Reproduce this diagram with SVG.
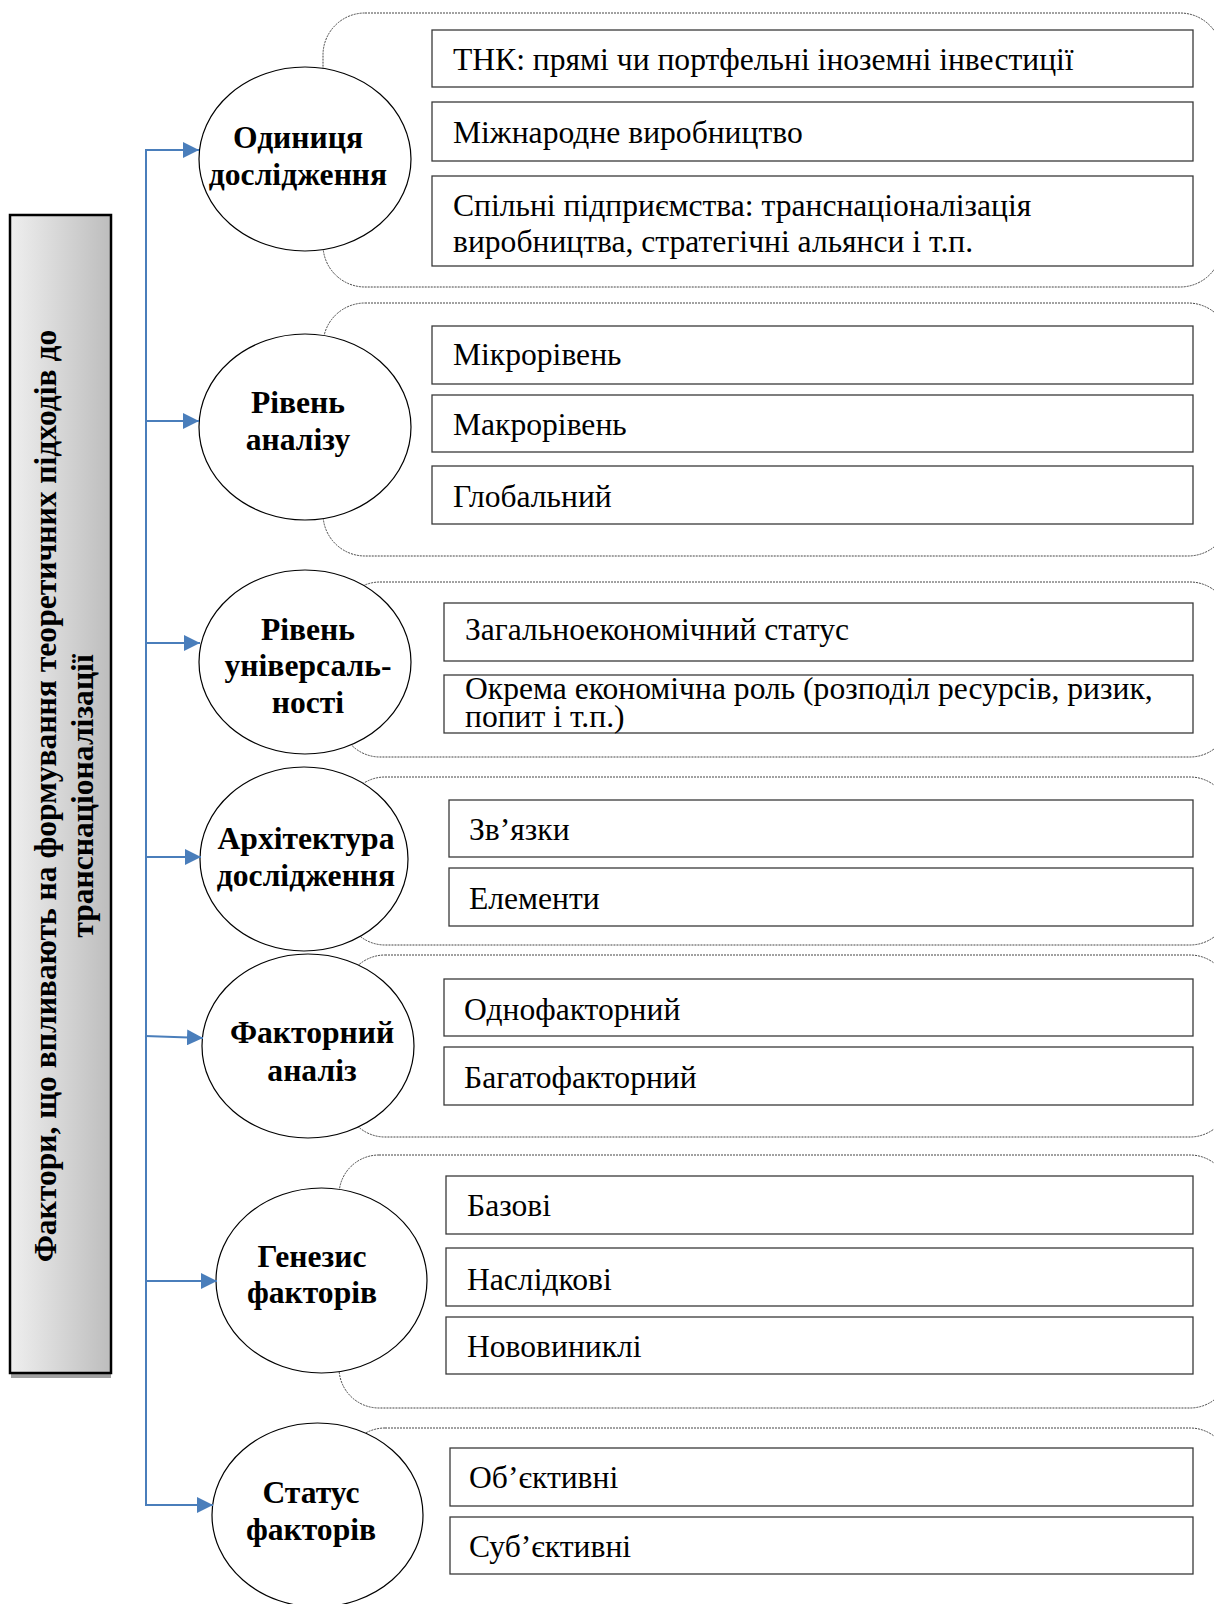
<svg xmlns="http://www.w3.org/2000/svg" width="1214" height="1604" viewBox="0 0 1214 1604">
<defs>
<linearGradient id="barGrad" x1="0" y1="0" x2="1" y2="0">
<stop offset="0" stop-color="#efefef"/>
<stop offset="1" stop-color="#bdbdbd"/>
</linearGradient>
<marker id="arr" markerUnits="userSpaceOnUse" markerWidth="18" markerHeight="16" refX="16" refY="8" orient="auto">
<path d="M0,0 L16,8 L0,16 Z" fill="#4A7EBB"/>
</marker>
</defs>
<style>
.cont{fill:none;stroke:#444;stroke-width:1;stroke-dasharray:2 1}
.box{fill:#fff;stroke:#3a3a3a;stroke-width:1.3}
.circ{fill:#fff;stroke:#000;stroke-width:1.2}
.t{font-family:"Liberation Serif","Times New Roman",serif;font-size:31.6px;fill:#000}
.b{font-family:"Liberation Serif","Times New Roman",serif;font-size:31.6px;font-weight:bold;fill:#000;text-anchor:middle}
.con{fill:none;stroke:#4A7EBB;stroke-width:2}
</style>

<g id="main-factor">
<rect x="11" y="1373" width="100" height="5" fill="#a0a0a0"/>
<rect x="10" y="215" width="101" height="1158" fill="url(#barGrad)" stroke="#000" stroke-width="2.5"/>
<text class="b" transform="translate(56,796) rotate(-90)">Фактори, що впливають на формування теоретичних підходів до</text>
<text class="b" transform="translate(93,796) rotate(-90)">транснаціоналізації</text>
</g>

<g id="group1">
<rect class="cont" x="323" y="13" width="899" height="274" rx="42"/>
<rect class="box" x="432" y="30" width="761" height="57"/>
<text class="t" x="453" y="70">ТНК: прямі чи портфельні іноземні інвестиції</text>
<rect class="box" x="432" y="102" width="761" height="59"/>
<text class="t" x="453" y="143">Міжнародне виробництво</text>
<rect class="box" x="432" y="176" width="761" height="90"/>
<text class="t" x="453" y="216">Спільні підприємства: транснаціоналізація</text>
<text class="t" x="453" y="252">виробництва, стратегічні альянси і т.п.</text>
<ellipse class="circ" cx="305" cy="159" rx="106" ry="92"/>
<text class="b" x="298" y="148">Одиниця</text>
<text class="b" x="298" y="185">дослідження</text>
</g>

<g id="group2">
<rect class="cont" x="323" y="303" width="907" height="253" rx="42"/>
<rect class="box" x="432" y="326" width="761" height="58"/>
<text class="t" x="453" y="365">Мікрорівень</text>
<rect class="box" x="432" y="395" width="761" height="57"/>
<text class="t" x="453" y="435">Макрорівень</text>
<rect class="box" x="432" y="466" width="761" height="58"/>
<text class="t" x="453" y="507">Глобальний</text>
<ellipse class="circ" cx="305" cy="427" rx="106" ry="93"/>
<text class="b" x="298" y="413">Рівень</text>
<text class="b" x="298" y="450">аналізу</text>
</g>

<g id="group3">
<rect class="cont" x="340" y="582" width="890" height="175" rx="40"/>
<rect class="box" x="444" y="603" width="749" height="58"/>
<text class="t" x="465" y="640">Загальноекономічний статус</text>
<rect class="box" x="444" y="675" width="749" height="58"/>
<text class="t" x="465" y="699">Окрема економічна роль (розподіл ресурсів, ризик,</text>
<text class="t" x="465" y="727">попит і т.п.)</text>
<ellipse class="circ" cx="305" cy="662" rx="106" ry="92"/>
<text class="b" x="308" y="640">Рівень</text>
<text class="b" x="308" y="676">універсаль-</text>
<text class="b" x="308" y="713">ності</text>
</g>

<g id="group4">
<rect class="cont" x="345" y="777" width="885" height="168" rx="40"/>
<rect class="box" x="449" y="800" width="744" height="57"/>
<text class="t" x="469" y="840">Зв’язки</text>
<rect class="box" x="449" y="868" width="744" height="58"/>
<text class="t" x="469" y="909">Елементи</text>
<ellipse class="circ" cx="304" cy="859" rx="104" ry="92"/>
<text class="b" x="306" y="849">Архітектура</text>
<text class="b" x="306" y="886">дослідження</text>
</g>

<g id="group5">
<rect class="cont" x="345" y="955" width="885" height="182" rx="40"/>
<rect class="box" x="444" y="979" width="749" height="57"/>
<text class="t" x="464" y="1020">Однофакторний</text>
<rect class="box" x="444" y="1047" width="749" height="58"/>
<text class="t" x="464" y="1088">Багатофакторний</text>
<ellipse class="circ" cx="308" cy="1046" rx="106" ry="92"/>
<text class="b" x="312" y="1043">Факторний</text>
<text class="b" x="312" y="1081">аналіз</text>
</g>

<g id="group6">
<rect class="cont" x="339" y="1155" width="891" height="253" rx="40"/>
<rect class="box" x="446" y="1176" width="747" height="58"/>
<text class="t" x="467" y="1216">Базові</text>
<rect class="box" x="446" y="1248" width="747" height="58"/>
<text class="t" x="467" y="1290">Наслідкові</text>
<rect class="box" x="446" y="1317" width="747" height="57"/>
<text class="t" x="467" y="1357">Нововиниклі</text>
<ellipse class="circ" cx="321.5" cy="1280.5" rx="105.5" ry="92.5"/>
<text class="b" x="312" y="1267">Генезис</text>
<text class="b" x="312" y="1303">факторів</text>
</g>

<g id="group7">
<rect class="cont" x="345" y="1428" width="885" height="250" rx="40"/>
<rect class="box" x="450" y="1448" width="743" height="58"/>
<text class="t" x="469" y="1488">Об’єктивні</text>
<rect class="box" x="450" y="1517" width="743" height="57"/>
<text class="t" x="469" y="1557">Суб’єктивні</text>
<ellipse class="circ" cx="317.5" cy="1515" rx="105.5" ry="92"/>
<text class="b" x="311" y="1503">Статус</text>
<text class="b" x="311" y="1540">факторів</text>
</g>

<g id="connectors">
<path class="con" d="M146,150 L146,1505"/>
<path class="con" d="M145,150 L199,150" marker-end="url(#arr)"/>
<path class="con" d="M145,421 L199,421" marker-end="url(#arr)"/>
<path class="con" d="M145,643 L200,643" marker-end="url(#arr)"/>
<path class="con" d="M145,857 L201,857" marker-end="url(#arr)"/>
<path class="con" d="M145,1036 L203,1038" marker-end="url(#arr)"/>
<path class="con" d="M145,1281 L217,1281" marker-end="url(#arr)"/>
<path class="con" d="M145,1505 L213,1505" marker-end="url(#arr)"/>
</g>
</svg>
